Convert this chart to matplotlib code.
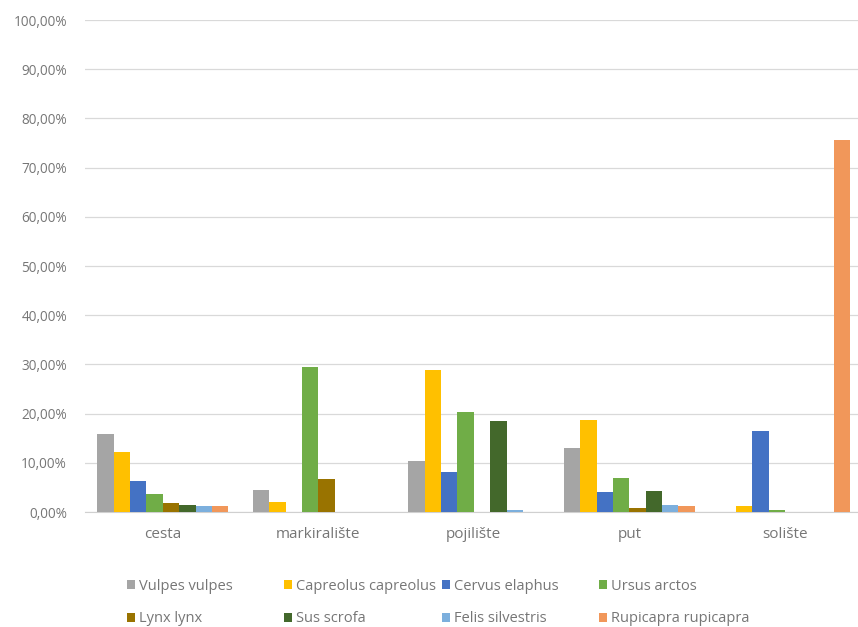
import matplotlib.pyplot as plt
import numpy as np
from matplotlib.ticker import FuncFormatter, MultipleLocator

plt.rcParams['font.family'] = ['Open Sans', 'DejaVu Sans']

# data (percent)
categories = ["cesta", "markiralište", "pojilište", "put", "solište"]
species = ["Vulpes vulpes", "Capreolus capreolus", "Cervus elaphus", "Ursus arctos",
           "Lynx lynx", "Sus scrofa", "Felis silvestris", "Rupicapra rupicapra"]
vulpes = [15.8, 4.4, 10.4, 13.0, 0.0]
capreolus = [12.2, 2.0, 28.8, 18.6, 1.2]
cervus = [6.3, 0.0, 8.2, 4.0, 16.5]
ursus = [3.6, 29.4, 20.4, 7.0, 0.5]
lynx = [1.8, 6.8, 0.0, 0.8, 0.0]
sus = [1.4, 0.0, 18.4, 4.2, 0.0]
felis = [1.2, 0.0, 0.4, 1.4, 0.0]
rupicapra = [1.2, 0.0, 0.0, 1.2, 75.7]
values = [vulpes, capreolus, cervus, ursus, lynx, sus, felis, rupicapra]
colors = ["#A5A5A5", "#FFC000", "#4472C4", "#70AD47",
          "#997300", "#43682B", "#7CAFDD", "#F1975A"]

txt = "#767676"
W, H = 858, 627
fig = plt.figure(figsize=(W / 100, H / 100), dpi=100)
ax = fig.add_axes([85 / W, (H - 512) / H, (858 - 85) / W, (512 - 20) / H])

x = np.arange(len(categories))
bw = 1 / 9.5
bars = []
for i, (vals, c) in enumerate(zip(values, colors)):
    b = ax.bar(x + (i - 3.5) * bw, vals, width=bw, color=c, label=species[i], zorder=3)
    bars.append(b)

ax.set_xlim(-0.5, 4.47)
ax.set_ylim(0, 100)
ax.yaxis.set_major_locator(MultipleLocator(10))
ax.yaxis.set_major_formatter(FuncFormatter(lambda v, p: f"{v:.2f}%".replace('.', ',')))
ax.set_xticks(x)
ax.set_xticklabels(categories)
ax.grid(axis='y', color='#d9d9d9', lw=0.9, zorder=0)
for s in ['top', 'right', 'left']:
    ax.spines[s].set_visible(False)
ax.spines['bottom'].set_color('#d0d0d0')
ax.tick_params(axis='y', length=0, pad=13, labelsize=9.8, labelcolor=txt)
ax.tick_params(axis='x', length=0, pad=11, labelsize=11, labelcolor=txt)

# legend, 4 equal columns of 2 rows
colx = [127, 284, 442, 599]
for j in range(4):
    fig.legend(handles=[bars[j], bars[j + 4]], loc='upper left',
               bbox_to_anchor=(colx[j] / W, (H - 579) / H), frameon=False,
               fontsize=10.5, labelcolor=txt, handlelength=0.55, handleheight=0.55,
               handletextpad=0.3, labelspacing=1.2, borderpad=0, borderaxespad=0)

fig.savefig("out.png", dpi=100)
